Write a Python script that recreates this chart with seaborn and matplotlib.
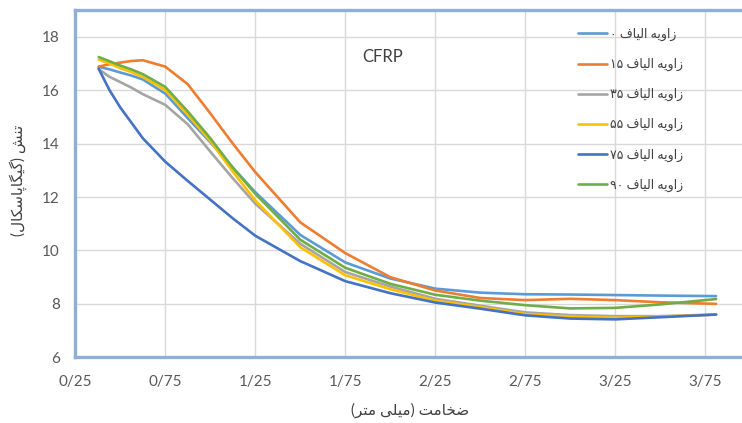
import matplotlib
matplotlib.use("Agg")
import matplotlib.pyplot as plt
import numpy as np
import pandas as pd
import seaborn as sns

# Plate thickness (mm) and stress (GPa) for each fibre angle
thickness = [0.38, 0.44, 0.5, 0.56, 0.625, 0.75, 0.875, 1.0, 1.125, 1.25, 1.5, 1.75,
             2.0, 2.25, 2.5, 2.75, 3.0, 3.25, 3.5, 3.81]
stress_0 = [16.87, 16.78, 16.66, 16.55, 16.40, 15.87, 14.95, 14.05, 13.10, 12.18, 10.58, 9.55,
            8.95, 8.57, 8.42, 8.36, 8.35, 8.33, 8.31, 8.29]
stress_15 = [16.88, 16.97, 17.03, 17.09, 17.12, 16.88, 16.22, 15.13, 14.00, 12.93, 11.05, 9.90,
             9.00, 8.50, 8.22, 8.14, 8.19, 8.14, 8.06, 8.00]
stress_35 = [16.78, 16.50, 16.30, 16.10, 15.85, 15.45, 14.72, 13.70, 12.70, 11.75, 10.25, 9.19,
             8.65, 8.19, 7.93, 7.68, 7.58, 7.54, 7.54, 7.60]
stress_55 = [17.14, 17.00, 16.82, 16.68, 16.50, 16.00, 15.08, 14.10, 12.95, 11.87, 10.12, 9.07,
             8.55, 8.12, 7.88, 7.62, 7.52, 7.48, 7.52, 7.60]
stress_75 = [16.80, 16.00, 15.35, 14.80, 14.20, 13.32, 12.60, 11.90, 11.20, 10.55, 9.60, 8.85,
             8.40, 8.05, 7.82, 7.57, 7.45, 7.42, 7.50, 7.60]
stress_90 = [17.24, 17.08, 16.92, 16.78, 16.60, 16.12, 15.20, 14.20, 13.10, 12.12, 10.40, 9.35,
             8.75, 8.34, 8.12, 7.95, 7.83, 7.85, 7.98, 8.18]

angles = ["0", "15", "35", "55", "75", "90"]
series_labels = ["زاویه الیاف " + a for a in angles]
x_ticks = [0.25, 0.75, 1.25, 1.75, 2.25, 2.75, 3.25, 3.75]
x_tick_labels = ["0/25", "0/75", "1/25", "1/75", "2/25", "2/75", "3/25", "3/75"]
y_ticks = [6, 8, 10, 12, 14, 16, 18]
colors = ["#5B9BD5", "#ED7D31", "#A5A5A5", "#FFC000", "#4472C4", "#70AD47"]

# --- minimal Arabic-script shaping (matplotlib has no complex text layout) ---
# letter: (isolated, final, initial, medial); right-joining letters have no initial/medial
FORMS = {
    "\u0627": ("\uFE8D", "\uFE8E", None, None),
    "\u0632": ("\uFEAF", "\uFEB0", None, None),
    "\u0631": ("\uFEAD", "\uFEAE", None, None),
    "\u062F": ("\uFEA9", "\uFEAA", None, None),
    "\u0648": ("\uFEED", "\uFEEE", None, None),
    "\u06CC": ("\uFBFC", "\uFBFD", "\uFBFE", "\uFBFF"),
    "\u0647": ("\uFEE9", "\uFEEA", "\uFEEB", "\uFEEC"),
    "\u0644": ("\uFEDD", "\uFEDE", "\uFEDF", "\uFEE0"),
    "\u0641": ("\uFED1", "\uFED2", "\uFED3", "\uFED4"),
    "\u062A": ("\uFE95", "\uFE96", "\uFE97", "\uFE98"),
    "\u0646": ("\uFEE5", "\uFEE6", "\uFEE7", "\uFEE8"),
    "\u0634": ("\uFEB5", "\uFEB6", "\uFEB7", "\uFEB8"),
    "\u06AF": ("\uFB92", "\uFB93", "\uFB94", "\uFB95"),
    "\u06A9": ("\uFB8E", "\uFB8F", "\uFB90", "\uFB91"),
    "\u067E": ("\uFB56", "\uFB57", "\uFB58", "\uFB59"),
    "\u0633": ("\uFEB1", "\uFEB2", "\uFEB3", "\uFEB4"),
    "\u0636": ("\uFEBD", "\uFEBE", "\uFEBF", "\uFEC0"),
    "\u062E": ("\uFEA5", "\uFEA6", "\uFEA7", "\uFEA8"),
    "\u0645": ("\uFEE1", "\uFEE2", "\uFEE3", "\uFEE4"),
}
FA_DIGITS = str.maketrans("0123456789", "۰۱۲۳۴۵۶۷۸۹")
MIRROR = {"(": ")", ")": "("}


def rtl(text):
    text = text.translate(FA_DIGITS)
    shaped = []
    for i, ch in enumerate(text):
        if ch not in FORMS:
            shaped.append(ch)
            continue
        iso, fin, ini, med = FORMS[ch]
        prev = text[i - 1] if i > 0 else ""
        nxt = text[i + 1] if i + 1 < len(text) else ""
        pj = prev in FORMS and FORMS[prev][2] is not None
        nj = nxt in FORMS and ini is not None
        if pj and nj:
            shaped.append(med)
        elif nj:
            shaped.append(ini)
        elif pj:
            shaped.append(fin)
        else:
            shaped.append(iso)
    # visual order: reverse, keeping digit runs left-to-right
    tokens, run = [], ""
    for ch in shaped:
        if ch.isdigit():
            run += ch
        else:
            if run:
                tokens.append(run)
                run = ""
            tokens.append(MIRROR.get(ch, ch))
    if run:
        tokens.append(run)
    return "".join(reversed(tokens))


sns.set_theme(style="white")
plt.rcParams["font.family"] = ["Lato", "DejaVu Sans"]

df = pd.DataFrame({
    "thickness": thickness * 6,
    "stress": stress_0 + stress_15 + stress_35 + stress_55 + stress_75 + stress_90,
    "angle": [a for a in angles for _ in thickness],
})

W, H = 742, 423
X0, Y0, YTOP = 75.3, 357.3, 10.0
fig = plt.figure(figsize=(W / 100, H / 100), dpi=100)
ax = fig.add_axes([X0 / W, (H - Y0) / H, (W - X0) / W, (Y0 - YTOP) / H])

sns.lineplot(data=df, x="thickness", y="stress", hue="angle", hue_order=angles,
             palette=colors, linewidth=1.9, sort=False, ax=ax, legend=False)
for ln in ax.lines:
    ln.set_solid_joinstyle("round")
    ln.set_solid_capstyle("round")

ax.set_xlim(0.25, 0.25 + (W - X0) / 180.0)
ax.set_ylim(6, 19)
ax.set_xticks(x_ticks)
ax.set_xticklabels(x_tick_labels)
ax.set_yticks(y_ticks)
ax.grid(True, color="#D9D9D9", linewidth=1.0)
ax.set_axisbelow(True)
ax.tick_params(axis="x", length=0, pad=13, labelsize=11, labelcolor="#595959")
ax.tick_params(axis="y", length=0, pad=11, labelsize=11, labelcolor="#595959")

frame = "#8EAFD6"
for side in ["left", "top", "bottom"]:
    ax.spines[side].set_visible(True)
    ax.spines[side].set_color(frame)
    ax.spines[side].set_linewidth(2.4)
ax.spines["right"].set_visible(False)

# axis titles, positioned in axes coordinates
ax.set_xlabel(rtl("ضخامت (میلی متر)"), fontsize=11, color="#404040")
ax.set_ylabel(rtl("تنش (گیگاپاسکال)"), fontsize=11, color="#404040")
ax.xaxis.set_label_coords((410 - X0) / (W - X0), -(410 - Y0) / (Y0 - YTOP))
ax.yaxis.set_label_coords(-(X0 - 18) / (W - X0), (Y0 - 180) / (Y0 - YTOP))
ax.xaxis.label.set_va("center")
ax.yaxis.label.set_va("center")

ax.text((383 - X0) / (W - X0), (Y0 - 57) / (Y0 - YTOP), "CFRP",
        transform=ax.transAxes, ha="center", va="center", fontsize=12, color="#404040")

handles = [plt.Line2D([], [], color=c, linewidth=1.9) for c in colors]
leg = ax.legend(handles, [rtl(s) for s in series_labels], loc="upper left",
                bbox_to_anchor=((574 - X0) / (W - X0), (Y0 - 24) / (Y0 - YTOP)),
                frameon=False, fontsize=9, handlelength=2.3, handletextpad=0.3,
                labelspacing=1.36, borderaxespad=0, borderpad=0.3)
for t in leg.get_texts():
    t.set_color("#404040")

fig.savefig("out.png", dpi=100, facecolor="white")
